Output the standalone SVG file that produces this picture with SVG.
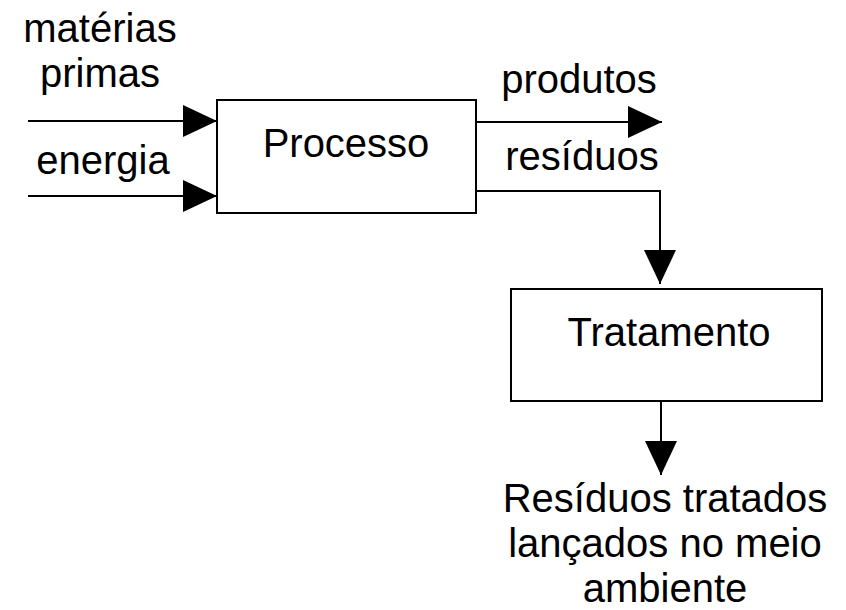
<svg xmlns="http://www.w3.org/2000/svg" width="846" height="610" viewBox="0 0 846 610">
<defs>
<style>
.box{fill:#fff;stroke:#000;stroke-width:2}
.ln{fill:none;stroke:#000;stroke-width:2}
text{font-family:"Liberation Sans",Arial,sans-serif;font-size:40px;fill:#000;text-anchor:middle}
</style>
<marker id="ah" markerUnits="userSpaceOnUse" markerWidth="34" markerHeight="32" refX="34" refY="16" orient="auto" viewBox="0 0 34 32">
<path d="M0,0 L34,16 L0,32 Z" fill="#000"/>
</marker>
</defs>
<rect width="846" height="610" fill="#fff"/>
<g id="connectors">
<line class="ln" x1="28" y1="121" x2="217" y2="121" marker-end="url(#ah)"/>
<line class="ln" x1="28" y1="196" x2="217" y2="196" marker-end="url(#ah)"/>
<line class="ln" x1="476" y1="122" x2="662" y2="122" marker-end="url(#ah)"/>
<polyline class="ln" points="476,191 660,191 660,284" marker-end="url(#ah)"/>
<line class="ln" x1="661" y1="401" x2="661" y2="475" marker-end="url(#ah)"/>
</g>
<g id="labels">
<text x="100" y="42">matérias</text>
<text x="100" y="87">primas</text>
<text x="103" y="174">energia</text>
<text x="579" y="93">produtos</text>
<text x="582" y="170">resíduos</text>
</g>
<g id="processo">
<rect class="box" x="217" y="100" width="259" height="113"/>
<text x="346" y="157">Processo</text>
</g>
<g id="tratamento">
<rect class="box" x="511" y="289" width="311" height="112"/>
<text x="669" y="346">Tratamento</text>
</g>
<g id="saida">
<text x="665" y="512">Resíduos tratados</text>
<text x="665" y="557">lançados no meio</text>
<text x="665" y="602">ambiente</text>
</g>
</svg>
